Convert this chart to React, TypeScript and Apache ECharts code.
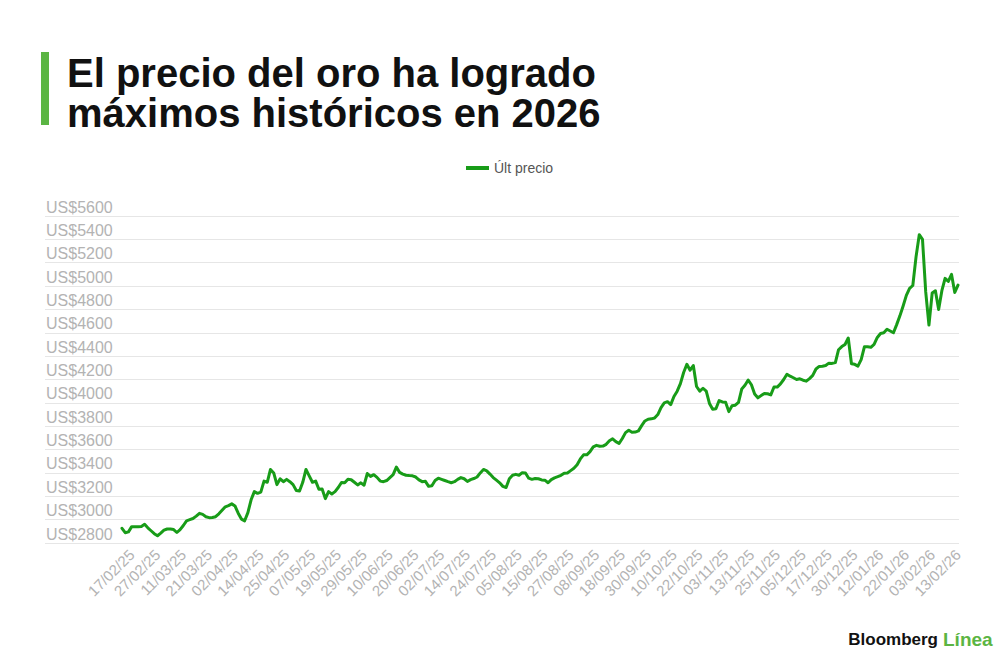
import React, { useEffect, useRef } from "react";
import * as echarts from "echarts";

// Trading days (weekdays, minus market holidays) covered by the series
const holidays = ["2025-04-18", "2025-12-25", "2026-01-01"];
function tradingDays(start: string, end: string, skip: string[]): string[] {
  const out: string[] = [];
  const s = new Date(start + "T00:00:00Z");
  const e = new Date(end + "T00:00:00Z");
  for (let d = s; d.getTime() <= e.getTime(); d = new Date(d.getTime() + 86400000)) {
    const wd = d.getUTCDay();
    const iso = d.toISOString().slice(0, 10);
    if (wd === 0 || wd === 6 || skip.indexOf(iso) >= 0) continue;
    const dd = iso.slice(8, 10);
    const mm = iso.slice(5, 7);
    const yy = iso.slice(2, 4);
    out.push(dd + "/" + mm + "/" + yy);
  }
  return out;
}
const categories = tradingDays("2025-02-12", "2026-02-13", holidays);

// Gold, last price (US$/oz)
const prices = [
  2926, 2888, 2895, 2940, 2940, 2940, 2942, 2960, 2930, 2905,
  2880, 2862, 2885, 2910, 2920, 2920, 2915, 2890, 2915, 2950,
  2990, 3000, 3010, 3030, 3054, 3045, 3025, 3017, 3018, 3025,
  3050, 3080, 3110, 3120, 3135, 3117, 3055, 3005, 2990, 3060,
  3170, 3240, 3225, 3235, 3330, 3320, 3430, 3400, 3300, 3350,
  3325, 3345, 3325, 3300, 3250, 3245, 3320, 3430, 3375, 3320,
  3330, 3260, 3262, 3180, 3240, 3220, 3240, 3275, 3318, 3315,
  3345, 3342, 3320, 3297, 3315, 3295, 3395, 3370, 3385, 3362,
  3330, 3325, 3335, 3360, 3385, 3450, 3405, 3390, 3380, 3377,
  3375, 3365, 3340, 3325, 3328, 3285, 3290, 3335, 3355, 3345,
  3335, 3325, 3316, 3325, 3345, 3360, 3350, 3327, 3343, 3352,
  3365, 3400, 3430, 3418, 3390, 3360, 3338, 3315, 3285, 3275,
  3350, 3380, 3388, 3380, 3402, 3400, 3355, 3345, 3352, 3350,
  3340, 3338, 3316, 3343, 3358, 3368, 3380, 3398, 3400, 3420,
  3440, 3470, 3520, 3555, 3555, 3582, 3623, 3636, 3628, 3630,
  3645, 3675, 3692, 3668, 3652, 3695, 3745, 3765, 3748, 3750,
  3760, 3805, 3845, 3860, 3863, 3870, 3900, 3960, 4000, 4010,
  3985, 4055, 4100, 4165, 4260, 4330, 4280, 4320, 4140, 4100,
  4125, 4100, 3995, 3945, 3950, 4020, 4008, 4005, 3925, 3975,
  3980, 4005, 4118, 4150, 4195, 4155, 4075, 4043, 4062, 4080,
  4078, 4068, 4136, 4135, 4162, 4200, 4245, 4228, 4215, 4200,
  4206, 4194, 4186, 4208, 4235, 4290, 4312, 4314, 4320, 4340,
  4338, 4345, 4455, 4482, 4500, 4555, 4335, 4330, 4315, 4370,
  4480, 4480, 4476, 4500, 4560, 4594, 4600, 4630, 4615, 4600,
  4670, 4745, 4830, 4920, 4980, 5005, 5250, 5440, 5400, 4950,
  4666, 4940, 4960, 4800, 4960, 5066, 5040, 5100, 4945, 5008,
];

const seriesName = "Últ precio";
const yMin = 2800;
const yMax = 5600;
const yStep = 200;
const firstLabelIndex = 3;
const labelEvery = 8;

const titleText = "El precio del oro ha logrado\nmáximos históricos en 2026";

const LINE_GREEN = "#189c18";
const BRAND_GREEN = "#5bb543";
const AXIS_GREY = "#b3b3b3";
const FONT = "'Liberation Sans', Arial, Helvetica, sans-serif";

export default function App() {
  const ref = useRef<HTMLDivElement>(null);

  useEffect(() => {
    if (!ref.current) return;
    const chart = echarts.init(ref.current, undefined, { renderer: "svg" });
    chart.setOption({
      animation: false,
      backgroundColor: "#ffffff",
      textStyle: { fontFamily: FONT },
      title: {
        text: titleText,
        left: 62,
        top: 48,
        textStyle: {
          fontFamily: FONT,
          fontWeight: "bold",
          fontSize: 40,
          lineHeight: 40,
          color: "#111111",
        },
      },
      legend: {
        data: [seriesName],
        left: 461,
        top: 156,
        icon: "rect",
        itemWidth: 23,
        itemHeight: 4,
        itemGap: 8,
        textStyle: { color: "#555555", fontSize: 14, fontFamily: FONT },
      },
      grid: [
        { left: 45, right: 41, top: 216, height: 327 },
        { left: 122, right: 42, top: 216, height: 327 },
      ],
      xAxis: [
        { gridIndex: 0, type: "value", min: 0, max: 1, show: false },
        {
          gridIndex: 1,
          type: "category",
          data: categories,
          boundaryGap: false,
          axisLine: { show: false },
          axisTick: { show: false },
          splitLine: { show: false },
          axisLabel: {
            interval: (i: number) => i >= firstLabelIndex && (i - firstLabelIndex) % labelEvery === 0,
            rotate: 45,
            margin: 9,
            color: AXIS_GREY,
            fontSize: 15,
            fontFamily: FONT,
          },
        },
      ],
      yAxis: [
        {
          gridIndex: 0,
          type: "value",
          min: yMin,
          max: yMax,
          interval: yStep,
          axisLine: { show: false },
          axisTick: { show: false },
          splitLine: { show: true, lineStyle: { color: "#e6e6e6", width: 1 } },
          axisLabel: {
            inside: true,
            align: "left",
            verticalAlign: "bottom",
            margin: 1,
            padding: [0, 0, 1, 0],
            color: AXIS_GREY,
            fontSize: 16,
            fontFamily: FONT,
            formatter: (v: number) => "US$" + v,
          },
        },
        { gridIndex: 1, type: "value", min: yMin, max: yMax, interval: yStep, show: false },
      ],
      series: [
        {
          name: seriesName,
          type: "line",
          xAxisIndex: 1,
          yAxisIndex: 1,
          data: prices,
          showSymbol: false,
          symbol: "none",
          lineStyle: { color: LINE_GREEN, width: 3, join: "round", cap: "round" },
          itemStyle: { color: LINE_GREEN },
        },
      ],
      graphic: [
        {
          type: "rect",
          shape: { x: 41, y: 52, width: 8, height: 73 },
          style: { fill: BRAND_GREEN },
        },
        {
          type: "text",
          x: 938,
          y: 639,
          style: {
            text: "Bloomberg",
            fill: "#111111",
            font: "bold 17px 'Liberation Sans', Arial, sans-serif",
            textAlign: "right",
            align: "right",
            textVerticalAlign: "middle",
            verticalAlign: "middle",
          },
        },
        {
          type: "text",
          x: 943,
          y: 639,
          style: {
            text: "Línea",
            fill: BRAND_GREEN,
            font: "bold 19px 'Liberation Sans', Arial, sans-serif",
            textVerticalAlign: "middle",
            verticalAlign: "middle",
          },
        },
      ],
    });
    return () => chart.dispose();
  }, []);

  return (
    <div
      ref={ref}
      style={{ position: "fixed", left: 0, top: 0, width: 1000, height: 660, background: "#fff" }}
    />
  );
}
